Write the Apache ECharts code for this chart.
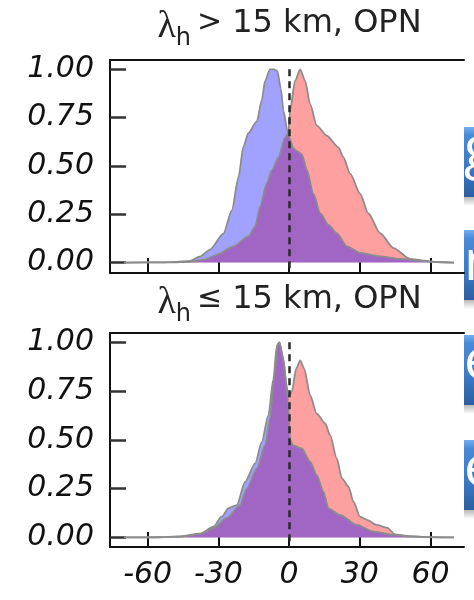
<!DOCTYPE html>
<html>
<head>
<meta charset="utf-8">
<script src="https://cdn.jsdelivr.net/npm/echarts@6/dist/echarts.min.js"></script>
<style>
html,body{margin:0;padding:0;background:#fff}
#main{width:474px;height:600px}
</style>
</head>
<body>
<div id="main"></div>
<script>
// tick labels
var xTicks = [-60, -30, 0, 30, 60];
var yTicks = [0, 0.25, 0.5, 0.75, 1];
var panelSigns = ['>', '≤'];

// top panel (lambda_h > 15 km)
var topBlueX = [-70,-55,-48,-42,-38,-33.5,-27.9,-24.3,-21.5,-19.4,-17.3,-13.7,-11.6,-10.2,-8.1,-6.5,-5,-3.5,-2.4,-0.7,0.3,1.8,3.5,5.4,7.5,10.3,13.2,16.7,20.2,24.5,30.1,38.6,47,55.6,62,70];
var topBlueY = [0,0.001,0.004,0.008,0.03,0.067,0.15,0.27,0.44,0.6,0.67,0.73,0.84,0.94,1.0,1.0,0.99,0.9,0.785,0.68,0.64,0.59,0.575,0.56,0.48,0.357,0.255,0.195,0.152,0.084,0.05,0.032,0.019,0.01,0.003,0];
var topRedX = [-70,-50,-42,-36,-30.7,-23.6,-17.3,-14.4,-12.3,-9.5,-7.3,-4.5,-1.7,-0.3,0.4,2.5,4.7,6.8,8.9,11.7,16,20.9,23,25.9,30.1,33.6,38.6,44.3,51.3,57,63,70];
var topRedY = [0,0.001,0.004,0.015,0.04,0.084,0.135,0.186,0.29,0.41,0.477,0.545,0.648,0.673,0.785,0.94,1.0,0.94,0.82,0.71,0.656,0.596,0.545,0.46,0.357,0.255,0.152,0.075,0.019,0.01,0.003,0];

// bottom panel (lambda_h <= 15 km)
var botBlueX = [-70,-56,-46.2,-37.8,-32.1,-28.6,-25.7,-22.2,-18.7,-14.4,-11.6,-8.8,-6.7,-5.2,-4.1,-2.7,-1.3,-0.5,0.5,1.5,5.4,8.9,11.7,14.6,16.7,21.6,28.7,35.8,44.3,52.7,62,70];
var botBlueY = [0,0.001,0.005,0.02,0.055,0.106,0.15,0.166,0.285,0.38,0.49,0.627,0.81,0.985,1.0,0.93,0.8,0.7,0.5,0.473,0.456,0.388,0.32,0.234,0.149,0.115,0.064,0.03,0.013,0.004,0.001,0];
var botRedX = [-70,-56,-46.2,-37.8,-32.1,-26.4,-20.8,-18,-13.7,-10.2,-8.1,-6.4,-5,-4.1,-2.4,-1,-0.3,1.1,3,4.7,6.4,8.9,11.7,15.3,17.4,20.2,22.4,25.2,27.3,30.1,33,37.2,41.5,45,50,58,70];
var botRedY = [0,0.001,0.004,0.017,0.047,0.1,0.166,0.25,0.354,0.473,0.61,0.81,0.985,1.0,0.91,0.77,0.72,0.746,0.865,0.908,0.865,0.729,0.635,0.584,0.524,0.405,0.303,0.26,0.183,0.106,0.09,0.064,0.05,0.016,0.008,0.002,0];

// slide buttons peeking in on the right edge
var buttonTops = [127, 230, 335, 440];
var buttonLetters = ['g', 'n', 'e', 'e'];

function pairs(xs, ys) {
    return xs.map(function (x, i) { return [x, ys[i]]; });
}

var xMin = -76, xMax = 74.2;
var yRanges = [[-0.054, 1.048], [-0.049, 1.048]];

var labelFont = {
    fontFamily: 'DejaVu Sans',
    fontStyle: 'italic',
    fontSize: 30,
    color: '#111'
};

function bottomAxis(grid, showLabels) {
    return {
        type: 'value', gridIndex: grid, position: 'bottom',
        min: xMin, max: xMax,
        axisLine: { show: true, onZero: false, lineStyle: { color: '#111', width: 2 } },
        axisTick: { show: true, inside: true, length: 15, customValues: xTicks,
                    lineStyle: { color: '#111', width: 2 } },
        axisLabel: Object.assign({ show: showLabels, customValues: xTicks, margin: 13 }, labelFont),
        splitLine: { show: false }
    };
}
function topAxis(grid) {
    return {
        type: 'value', gridIndex: grid, position: 'top',
        min: xMin, max: xMax,
        axisLine: { show: true, onZero: false, lineStyle: { color: '#111', width: 2 } },
        axisTick: { show: false }, axisLabel: { show: false }, splitLine: { show: false }
    };
}
function leftAxis(grid) {
    return {
        type: 'value', gridIndex: grid, position: 'left',
        min: yRanges[grid][0], max: yRanges[grid][1],
        axisLine: { show: true, onZero: false, lineStyle: { color: '#111', width: 2 } },
        axisTick: { show: true, inside: true, length: 16, customValues: yTicks,
                    lineStyle: { color: '#333', width: 2.5 } },
        axisLabel: Object.assign({ customValues: yTicks, margin: 16,
                    formatter: function (v) { return v.toFixed(2); } }, labelFont),
        splitLine: { show: false }
    };
}

function redSeries(xi, yi, xs, ys, ymin) {
    return {
        type: 'line', xAxisIndex: xi, yAxisIndex: yi,
        data: pairs(xs, ys),
        showSymbol: false, smooth: 0.25, smoothMonotone: 'x',
        lineStyle: { color: '#8c8c8c', width: 1.8 },
        areaStyle: { color: '#ffa0a0', opacity: 1 },
        markLine: {
            silent: true, symbol: ['none', 'none'], label: { show: false },
            lineStyle: { color: '#2a2a2a', type: [7, 5], width: 2.5 },
            data: [[{ coord: [0, 1] }, { coord: [0, ymin] }]]
        }
    };
}
function blueSeries(xi, yi, xs, ys) {
    return {
        type: 'line', xAxisIndex: xi, yAxisIndex: yi,
        data: pairs(xs, ys),
        showSymbol: false, smooth: 0.25, smoothMonotone: 'x',
        lineStyle: { color: '#8c8c8c', width: 1.8 },
        areaStyle: { color: 'rgba(0,0,255,0.37)', opacity: 1 }
    };
}

function titleText(top, sign) {
    return {
        type: 'text', x: 289.5, y: top,
        style: {
            text: '{l|λ}{s|h}{g|' + sign + '}{t|15 km, OPN}',
            align: 'center', verticalAlign: 'top',
            rich: {
                l: { fontFamily: 'Liberation Serif', fontSize: 38, lineHeight: 40, verticalAlign: 'top', fill: '#222' },
                s: { fontFamily: 'DejaVu Sans', fontSize: 24, lineHeight: 24, padding: [19, 6, 0, 0], verticalAlign: 'top', fill: '#222' },
                g: { fontFamily: 'DejaVu Sans', fontSize: 30, lineHeight: 40, padding: [0, 10, 0, 0], verticalAlign: 'top', fill: '#222' },
                t: { fontFamily: 'DejaVu Sans', fontSize: 32, lineHeight: 40, verticalAlign: 'top', fill: '#222' }
            }
        }
    };
}

var graphics = [titleText(8, panelSigns[0]), titleText(284, panelSigns[1])];
buttonTops.forEach(function (t, i) {
    graphics.push({
        type: 'rect', shape: { x: 464, y: t + 70, width: 12, height: 9 },
        style: { fill: new echarts.graphic.LinearGradient(0, 0, 0, 1, [
            { offset: 0, color: '#b8b8b8' }, { offset: 1, color: '#ffffff' }]) }
    });
    graphics.push({
        type: 'rect', shape: { x: 464, y: t, width: 12, height: 70 },
        style: { fill: new echarts.graphic.LinearGradient(0, 0, 0, 1, [
            { offset: 0, color: '#74aef0' }, { offset: 0.12, color: '#4a8ad8' },
            { offset: 0.6, color: '#3b79c6' }, { offset: 1, color: '#2b5e9f' }]) }
    });
    graphics.push({
        type: 'text', x: 464, y: t + [24, 34, 28, 30][i],
        style: { text: buttonLetters[i], font: '56px "Open Sans"', fill: '#ffffff', verticalAlign: 'middle' }
    });
});

var chart = echarts.init(document.getElementById('main'));
chart.setOption({
    animation: false,
    grid: [
        { left: 110, right: 10, top: 60, height: 213 },
        { left: 110, right: 10, top: 333, height: 214 }
    ],
    xAxis: [bottomAxis(0, false), topAxis(0), bottomAxis(1, true), topAxis(1)],
    yAxis: [leftAxis(0), leftAxis(1)],
    series: [
        redSeries(0, 0, topRedX, topRedY, yRanges[0][0]),
        blueSeries(0, 0, topBlueX, topBlueY),
        redSeries(2, 1, botRedX, botRedY, yRanges[1][0]),
        blueSeries(2, 1, botBlueX, botBlueY)
    ],
    graphic: graphics
});
</script>
</body>
</html>
